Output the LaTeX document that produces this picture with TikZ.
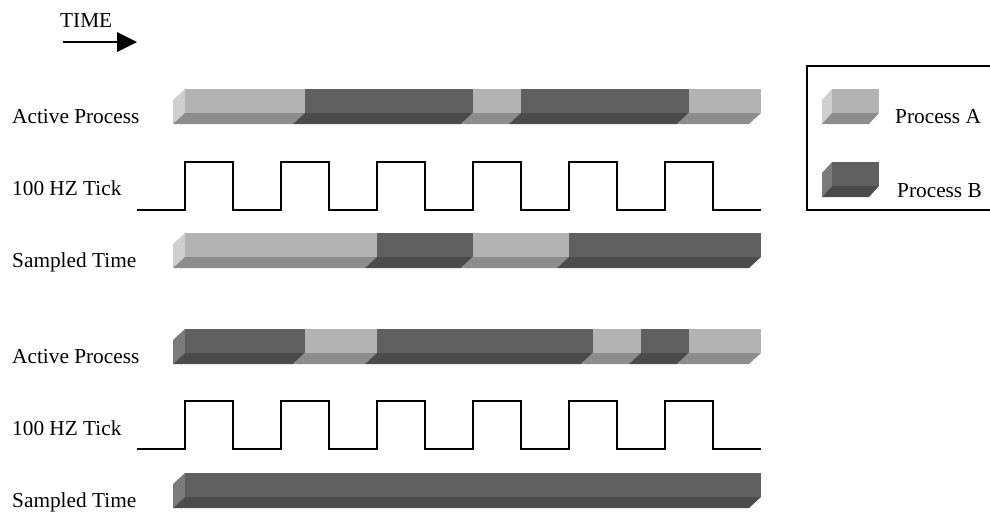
\documentclass[tikz,border=0pt]{standalone}
\usepackage{fontspec}
\setmainfont{Liberation Serif}
\definecolor{lightF}{HTML}{B3B3B3}
\definecolor{lightB}{HTML}{8D8D8D}
\definecolor{lightS}{HTML}{CFCFCF}
\definecolor{darkF}{HTML}{606060}
\definecolor{darkB}{HTML}{4B4B4B}
\definecolor{darkS}{HTML}{7B7B7B}
% segment: x1, x2, ytop, front colour, floor colour, depth dx
\newcommand\mysegm[6]{%
  \fill[#4] (#1,#3) rectangle (#2,#3+24);
  \fill[#5] (#1,#3+24) -- (#2,#3+24) -- (#2-#6,#3+35) -- (#1-#6,#3+35) -- cycle;}
% side face: x, ytop, colour, dx
\newcommand\myside[4]{%
  \fill[#3] (#1-#4,#2+11) -- (#1,#2) -- (#1,#2+24) -- (#1-#4,#2+35) -- cycle;}
\newcommand\mytick[1]{%
  \draw[wave] (137,#1+48) foreach \k in {0,...,5} { -- ({185+96*\k},#1+48) -- ({185+96*\k},#1) -- ({233+96*\k},#1) -- ({233+96*\k},#1+48) } -- (761,#1+48);}
\begin{document}
\begin{tikzpicture}[x=1pt,y=-1pt,
  lbl/.style={anchor=base west,inner sep=0pt,font=\fontsize{21.3}{24}\selectfont},
  wave/.style={line width=2pt,line join=miter,line cap=butt}]
\useasboundingbox (0,0) rectangle (990,512);
% TIME arrow
\node[lbl] (time) at (60,27) {TIME};
\coordinate (ta) at (63,42);
\coordinate (tb) at (117,42);
\draw[line width=1.8pt] (ta) -- (tb);
\fill (117,32) -- (137,42) -- (117,52) -- cycle;
% labels
\node[lbl] (ap1) at (12,123) {Active Process};
\node[lbl] (tk1) at (12,195) {100 HZ Tick};
\node[lbl] (st1) at (12,267) {Sampled Time};
\node[lbl] (ap2) at (12,363) {Active Process};
\node[lbl] (tk2) at (12,435) {100 HZ Tick};
\node[lbl] (st2) at (12,507) {Sampled Time};
% bar 1: active process
\myside{185}{89}{lightS}{12}
\mysegm{185}{305}{89}{lightF}{lightB}{12}
\mysegm{305}{473}{89}{darkF}{darkB}{12}
\mysegm{473}{521}{89}{lightF}{lightB}{12}
\mysegm{521}{689}{89}{darkF}{darkB}{12}
\mysegm{689}{761}{89}{lightF}{lightB}{12}
% tick 1
\mytick{162}
% bar 2: sampled time
\myside{185}{233}{lightS}{12}
\mysegm{185}{377}{233}{lightF}{lightB}{12}
\mysegm{377}{473}{233}{darkF}{darkB}{12}
\mysegm{473}{569}{233}{lightF}{lightB}{12}
\mysegm{569}{761}{233}{darkF}{darkB}{12}
% bar 3: active process
\myside{185}{329}{darkS}{12}
\mysegm{185}{305}{329}{darkF}{darkB}{12}
\mysegm{305}{377}{329}{lightF}{lightB}{12}
\mysegm{377}{593}{329}{darkF}{darkB}{12}
\mysegm{593}{641}{329}{lightF}{lightB}{12}
\mysegm{641}{689}{329}{darkF}{darkB}{12}
\mysegm{689}{761}{329}{lightF}{lightB}{12}
% tick 2
\mytick{401}
% bar 4: sampled time
\myside{185}{473}{darkS}{12}
\mysegm{185}{761}{473}{darkF}{darkB}{12}
% legend
\draw[line width=1.5pt] (807,66) rectangle (992,210);
\myside{832}{89}{lightS}{10}
\mysegm{832}{879}{89}{lightF}{lightB}{10}
\myside{832}{162}{darkS}{10}
\mysegm{832}{879}{162}{darkF}{darkB}{10}
\node[lbl] (pa) at (895,123) {Process A};
\node[lbl] (pb) at (897,197) {Process B};
\end{tikzpicture}
\end{document}
